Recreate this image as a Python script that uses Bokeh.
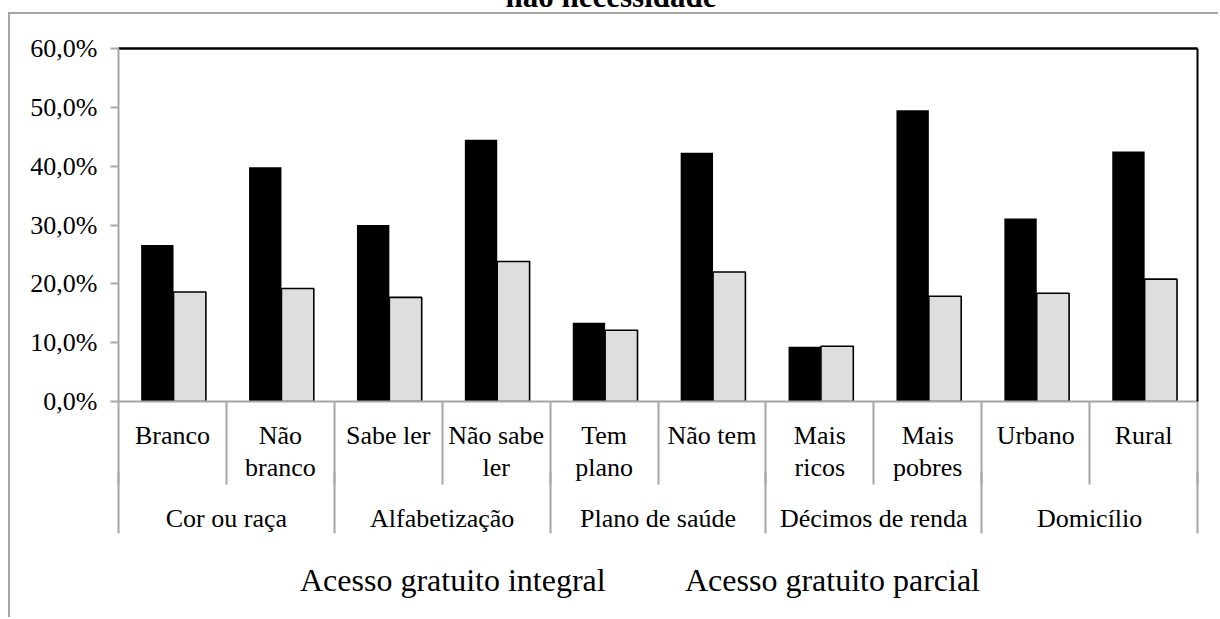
from bokeh.plotting import figure
from bokeh.layouts import column
from bokeh.models import (Range1d, FixedTicker, LinearAxis, Legend, LegendItem,
                          ColumnDataSource, CDSView, IndexFilter)
from bokeh.embed import file_html
from bokeh.resources import INLINE

# ---------------- data ----------------
groups = ["Cor ou raça", "Alfabetização", "Plano de saúde", "Décimos de renda", "Domicílio"]
group_sizes = [2, 2, 2, 2, 2]
subcats = ["Branco", "Não\nbranco", "Sabe ler", "Não sabe\nler", "Tem\nplano",
           "Não tem", "Mais\nricos", "Mais\npobres", "Urbano", "Rural"]
integral = [26.6, 39.8, 30.0, 44.5, 13.4, 42.3, 9.3, 49.5, 31.1, 42.5]
parcial = [18.6, 19.2, 17.7, 23.8, 12.1, 22.0, 9.4, 17.9, 18.4, 20.8]
series_names = ["Acesso gratuito integral", "Acesso gratuito parcial"]
y_ticks = [0, 10, 20, 30, 40, 50, 60]
y_tick_labels = ["0,0%", "10,0%", "20,0%", "30,0%", "40,0%", "50,0%", "60,0%"]
title_text = "não necessidade"

# ---------------- styling ----------------
FONT = "Liberation Serif"
GRAY = "#a6a6a6"
LIGHT = "#dedede"
SHIFT = 60                      # layout is shifted up so the title is cut off as in the source

W = 1218
ML, MR, MT = 118, 21, 48 + SHIFT
FRAME_BOTTOM = 401 + SHIFT
MB = 145
H1 = FRAME_BOTTOM + MB
H2 = 619 + SHIFT - H1 - 2

n = len(subcats)
ymax = y_ticks[-1]
centers = [i + 0.5 for i in range(n)]
group_bounds = [0]
for s in group_sizes:
    group_bounds.append(group_bounds[-1] + s)
all_bounds = list(range(n + 1))
group_centers = [(group_bounds[i] + group_bounds[i + 1]) / 2 for i in range(len(groups))]

border_css = (":host::after { content: ''; position: absolute; left: 8px; top: %dpx; "
              "right: 0; bottom: 0; border-left: 2px solid %s; border-top: 2px solid %s; "
              "pointer-events: none; }" % (12 + SHIFT, GRAY, GRAY))

p = figure(width=W, height=H1, x_range=Range1d(0, n), y_range=Range1d(0, ymax),
           output_backend="svg", toolbar_location=None, title=title_text,
           min_border_left=ML, min_border_right=MR, min_border_top=MT, min_border_bottom=MB,
           background_fill_color="white", border_fill_color="white")
p.outline_line_color = None
p.xgrid.visible = False
p.ygrid.visible = False

# title
p.title.text_font = FONT
p.title.text_font_style = "bold"
p.title.text_font_size = "31px"
p.title.align = "left"
p.title.offset = 387
p.title.standoff = 70
p.title.text_color = "black"

# bars
off_black, off_gray, bw = -0.14, 0.16, 0.3
xb = [c + off_black for c in centers]
xg = [c + off_gray for c in centers]
black_style = dict(fill_color="black", line_color=None)
gray_style = dict(fill_color=LIGHT, line_color="black", line_width=1.6)
p.vbar(x=xb, top=integral, width=bw, bottom=0, **black_style)
p.vbar(x=xg, top=parcial, width=bw, bottom=0, **gray_style)

# y axis
ya = p.yaxis[0]
ya.ticker = FixedTicker(ticks=y_ticks)
ya.major_label_overrides = dict(zip(y_ticks, y_tick_labels))
ya.axis_line_color = GRAY
ya.axis_line_width = 2
ya.major_tick_line_color = GRAY
ya.major_tick_line_width = 2
ya.major_tick_out = 8
ya.major_tick_in = 0
ya.minor_tick_line_color = None
ya.major_label_standoff = 13
ya.major_label_text_font = FONT
ya.major_label_text_font_size = "26px"
ya.major_label_text_color = "black"

# x axis 1: sub-category labels, separators as minor ticks
SUB_SEP = 83
xa = p.xaxis[0]
xa.ticker = FixedTicker(ticks=centers, minor_ticks=all_bounds)
xa.major_label_overrides = dict(zip(centers, subcats))
xa.axis_line_color = GRAY
xa.axis_line_width = 2
xa.major_tick_line_color = None
xa.major_tick_out = 0
xa.major_tick_in = 0
xa.minor_tick_line_color = GRAY
xa.minor_tick_line_width = 2
xa.minor_tick_out = SUB_SEP
xa.minor_tick_in = 0
xa.major_label_standoff = 19 - SUB_SEP
xa.major_label_text_font = FONT
xa.major_label_text_font_size = "26px"
xa.major_label_text_line_height = 1.11
xa.major_label_text_color = "black"

# x axis 2: group labels, group separators continue as minor ticks
GRP_SEP = 49
xa2 = LinearAxis(ticker=FixedTicker(ticks=group_centers, minor_ticks=group_bounds),
                 major_label_overrides=dict(zip(group_centers, groups)),
                 axis_line_color=None, major_tick_line_color=None,
                 major_tick_out=0, major_tick_in=0,
                 minor_tick_line_color=GRAY, minor_tick_line_width=2,
                 minor_tick_out=GRP_SEP, minor_tick_in=12,
                 major_label_standoff=19 - GRP_SEP, major_label_text_font=FONT,
                 major_label_text_font_size="26px", major_label_text_color="black")
p.add_layout(xa2, "below")

# top and right black borders of plot area
top_ax = LinearAxis(ticker=FixedTicker(ticks=[]), axis_line_color="black", axis_line_width=2.5,
                    major_tick_line_color=None, minor_tick_line_color=None,
                    major_tick_out=0, minor_tick_out=0, major_label_standoff=0)
p.add_layout(top_ax, "above")
right_ax = LinearAxis(ticker=FixedTicker(ticks=[]), axis_line_color="black", axis_line_width=2,
                      major_tick_line_color=None, minor_tick_line_color=None,
                      major_tick_out=0, minor_tick_out=0, major_label_standoff=0)
p.add_layout(right_ax, "right")

# legend strip (own small plot under the chart, using the same bar styles;
# its proxy bars are filtered out so only the legend swatches show)
pl = figure(width=W, height=H2, x_range=Range1d(0, 1), y_range=Range1d(0, 1),
            output_backend="svg", toolbar_location=None,
            x_axis_location=None, y_axis_location=None,
            min_border=0, min_border_left=0, min_border_right=0,
            min_border_top=0, min_border_bottom=0,
            background_fill_color="white", border_fill_color="white")
pl.outline_line_color = None
pl.xgrid.visible = False
pl.ygrid.visible = False
proxy_src = ColumnDataSource(dict(x=[-5], top=[6], bottom=[5]))
hidden = CDSView(filter=IndexFilter(indices=[]))
lr1 = pl.vbar(x="x", top="top", bottom="bottom", width=bw, source=proxy_src,
              view=hidden, **black_style)
lr2 = pl.vbar(x="x", top="top", bottom="bottom", width=bw, source=proxy_src,
              view=CDSView(filter=IndexFilter(indices=[])), **gray_style)
legend = Legend(items=[LegendItem(label=series_names[0], renderers=[lr1]),
                       LegendItem(label=series_names[1], renderers=[lr2])],
                location=(152, 18), orientation="horizontal",
                glyph_width=22, glyph_height=20, label_standoff=8, spacing=0,
                label_width=355, padding=0, margin=0,
                border_line_color=None, background_fill_alpha=0,
                label_text_font=FONT, label_text_font_size="32px", label_text_color="black")
pl.add_layout(legend)

layout = column(p, pl, spacing=0,
                styles={"margin-top": "-%dpx" % SHIFT, "position": "relative"},
                stylesheets=[border_css])

open("out.html", "w").write(file_html(layout, INLINE))
